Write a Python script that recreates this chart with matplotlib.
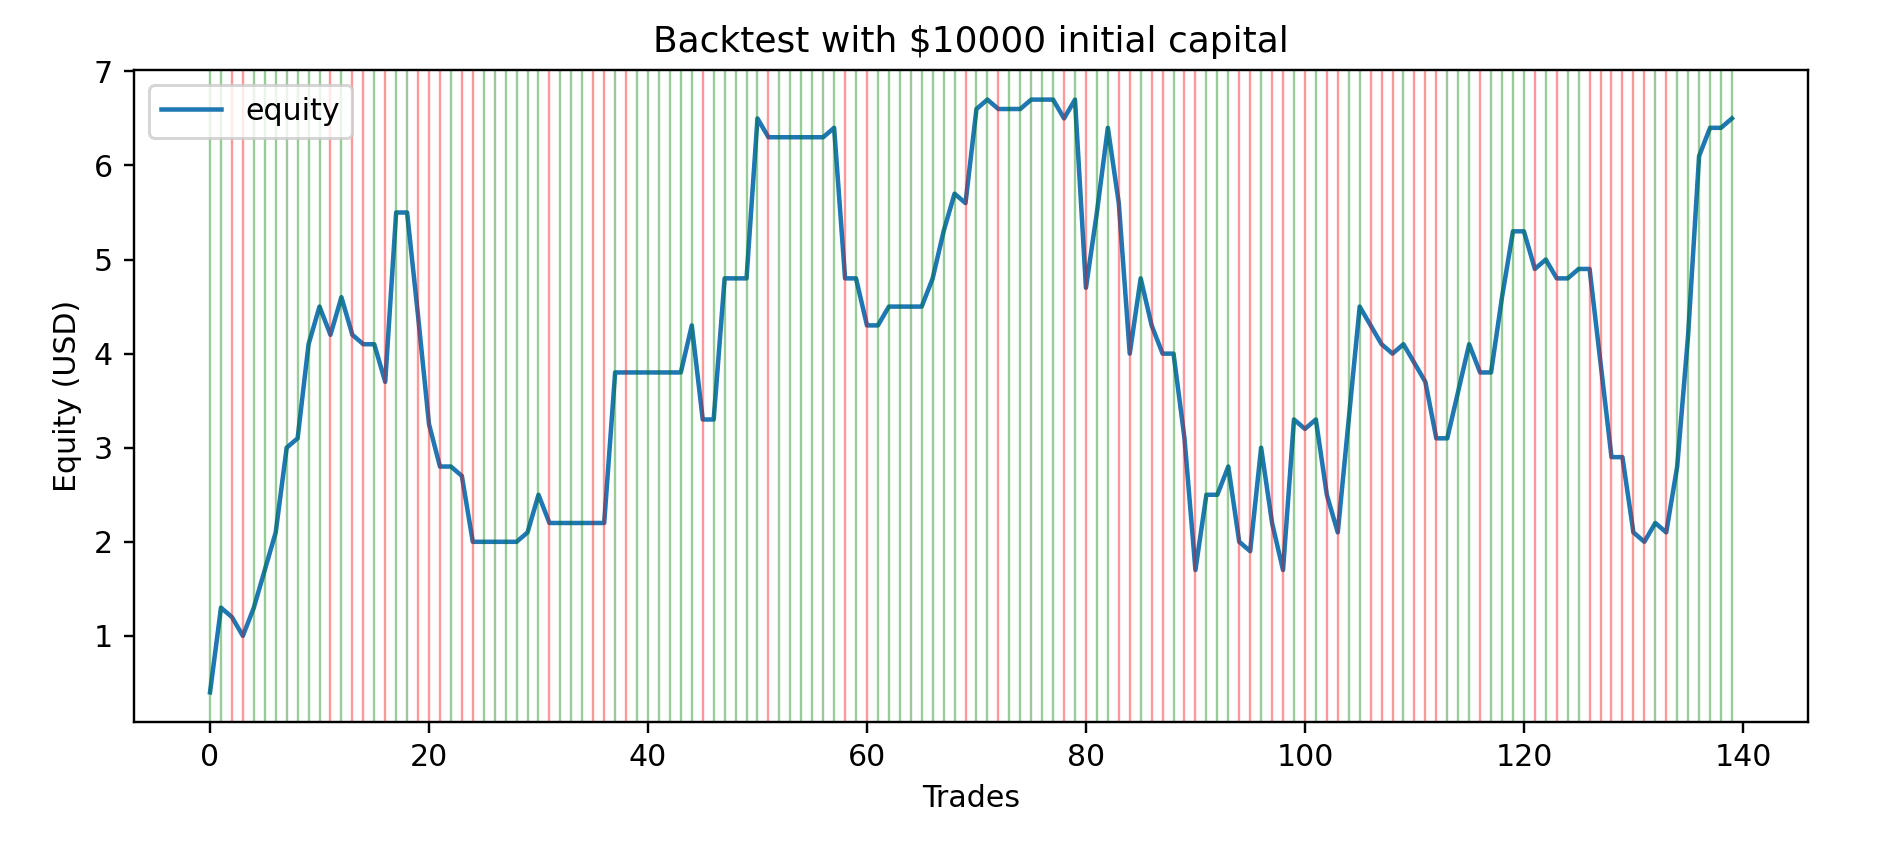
import matplotlib
matplotlib.use("Agg")
import matplotlib.pyplot as plt

# equity after each trade
equity = [0.4, 1.3, 1.2, 1.0, 1.3, 1.7, 2.1, 3.0, 3.1, 4.1,
          4.5, 4.2, 4.6, 4.2, 4.1, 4.1, 3.7, 5.5, 5.5, 4.4,
          3.25, 2.8, 2.8, 2.7, 2.0, 2.0, 2.0, 2.0, 2.0, 2.1,
          2.5, 2.2, 2.2, 2.2, 2.2, 2.2, 2.2, 3.8, 3.8, 3.8,
          3.8, 3.8, 3.8, 3.8, 4.3, 3.3, 3.3, 4.8, 4.8, 4.8,
          6.5, 6.3, 6.3, 6.3, 6.3, 6.3, 6.3, 6.4, 4.8, 4.8,
          4.3, 4.3, 4.5, 4.5, 4.5, 4.5, 4.8, 5.3, 5.7, 5.6,
          6.6, 6.7, 6.6, 6.6, 6.6, 6.7, 6.7, 6.7, 6.5, 6.7,
          4.7, 5.5, 6.4, 5.6, 4.0, 4.8, 4.3, 4.0, 4.0, 3.1,
          1.7, 2.5, 2.5, 2.8, 2.0, 1.9, 3.0, 2.2, 1.7, 3.3,
          3.2, 3.3, 2.5, 2.1, 3.3, 4.5, 4.3, 4.1, 4.0, 4.1,
          3.9, 3.7, 3.1, 3.1, 3.6, 4.1, 3.8, 3.8, 4.6, 5.3,
          5.3, 4.9, 5.0, 4.8, 4.8, 4.9, 4.9, 3.9, 2.9, 2.9,
          2.1, 2.0, 2.2, 2.1, 2.8, 4.2, 6.1, 6.4, 6.4, 6.5]

# 1 = winning trade (green line), 0 = losing trade (red line)
wins = [1, 1, 0, 0, 1, 1, 1, 1, 1, 1,
        1, 0, 1, 0, 0, 1, 0, 1, 1, 0,
        0, 0, 1, 0, 0, 1, 1, 1, 1, 1,
        1, 0, 1, 1, 1, 0, 0, 1, 0, 1,
        1, 1, 1, 1, 1, 0, 1, 1, 1, 1,
        1, 0, 1, 1, 1, 1, 1, 1, 0, 1,
        0, 1, 1, 1, 1, 1, 1, 1, 1, 0,
        1, 1, 0, 1, 1, 1, 1, 1, 0, 1,
        0, 1, 1, 0, 0, 1, 0, 0, 1, 0,
        0, 1, 1, 1, 0, 0, 1, 0, 0, 1,
        0, 1, 0, 0, 1, 1, 0, 0, 0, 1,
        0, 0, 0, 1, 1, 1, 0, 1, 1, 1,
        1, 0, 1, 0, 1, 1, 0, 0, 0, 0,
        0, 0, 1, 0, 1, 1, 1, 1, 1, 1]

trades = list(range(len(equity)))

dpi = 216
fig = plt.figure(figsize=(1897 / dpi, 846 / dpi), dpi=dpi)
ax = fig.add_axes([0.0706, 0.1466, 0.8825, 0.7707])

ax.plot(trades, equity, label="equity")

# mark each trade: green for a win, red for a loss
for t, w in zip(trades, wins):
    ax.axvline(t, color="g" if w else "r", alpha=0.4, linewidth=0.8)

ax.set_title(r"Backtest with \$10000 initial capital")
ax.set_xlabel("Trades")
ax.set_ylabel("Equity (USD)")
ax.legend(loc="upper left")

fig.savefig("out.png", dpi=dpi)
